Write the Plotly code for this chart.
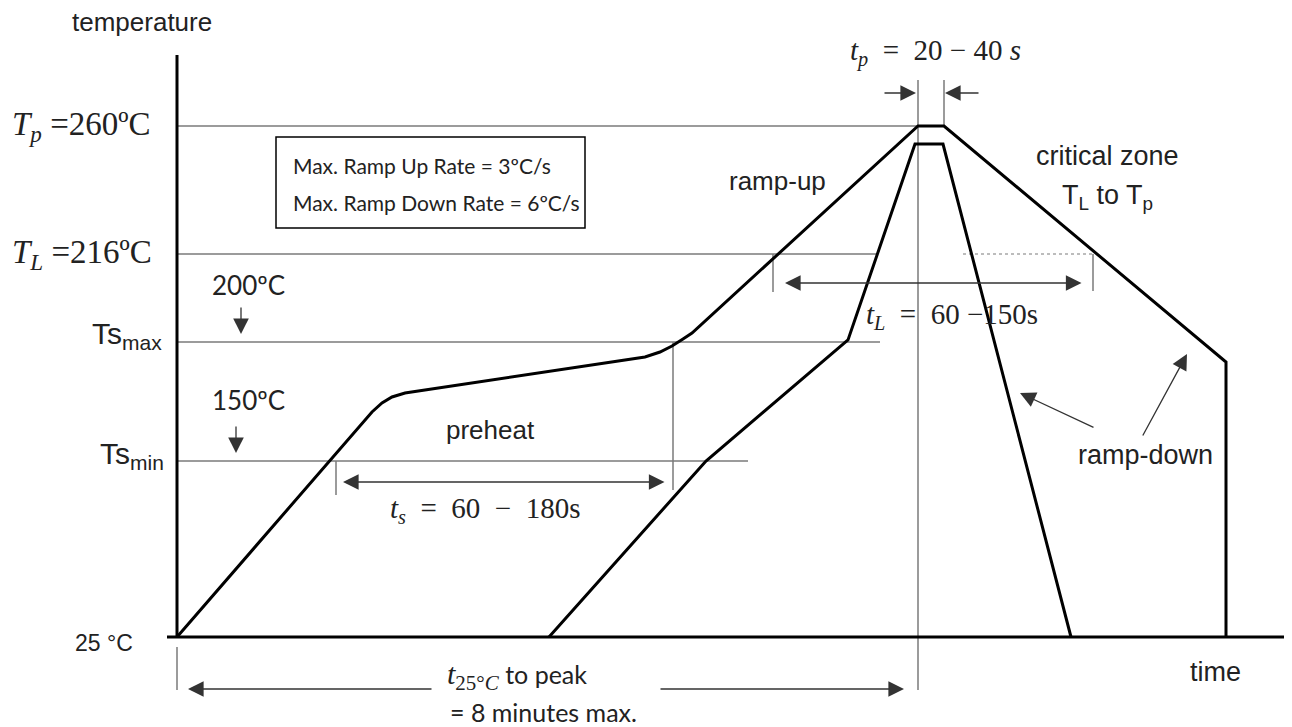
import plotly.graph_objects as go

# ---- data (schematic units: time ~ horizontal position, level ~ vertical position) ----
outer_time = [177, 362, 372, 382, 392, 405, 645, 660, 672, 683, 692, 918, 944, 1226, 1226]
outer_level = [637, 424, 412, 403, 397, 393, 357, 352, 346, 339, 333, 126, 126, 362, 637]

inner_time = [549, 706, 848, 915, 943, 1071]
inner_level = [637, 461, 340, 144, 144, 637]

# reference temperature levels: (level, end time)
ref_names = ["Tp", "TL", "Tsmax", "Tsmin"]
ref_levels = [126, 254, 342, 461]
ref_ends = [918, 876, 880, 748]

SANS = "Liberation Sans, Arial, sans-serif"
CAL = "Lato, Carlito, Calibri, sans-serif"
SERIF = "Liberation Serif, Times New Roman, serif"
GRAY = "#7a7a7a"
DARK = "#333333"
NB = "&nbsp;"
SP = NB * 2

fig = go.Figure()

def seg(xs, ys, color=GRAY, width=1.5, dash=None):
    fig.add_trace(go.Scatter(x=xs, y=ys, mode="lines", hoverinfo="skip",
                             line=dict(color=color, width=width, dash=dash), showlegend=False))

# reference horizontal lines
for lv, end in zip(ref_levels, ref_ends):
    seg([177, end], [lv, lv])
# dashed TL continuation
seg([963, 1093], [254, 254], dash="dot", width=1.2)
# vertical guide lines
seg([918, 918], [80, 690])
seg([944, 944], [80, 126])
seg([673, 673], [342, 490])
seg([336, 336], [461, 495])
seg([773, 773], [254, 292])
seg([1093, 1093], [254, 291])
seg([177, 177], [647, 690])

# axes
seg([177, 177], [55, 637], color="black", width=3)
seg([167, 1285], [637, 637], color="black", width=3)

# profiles
fig.add_trace(go.Scatter(x=outer_time, y=outer_level, mode="lines", hoverinfo="skip",
                         line=dict(color="black", width=3), showlegend=False))
fig.add_trace(go.Scatter(x=inner_time, y=inner_level, mode="lines", hoverinfo="skip",
                         line=dict(color="black", width=3), showlegend=False))

ann = []

def arrow(x, y, ax, ay, both=False, color=DARK, width=1.3):
    ann.append(dict(x=x, y=y, ax=ax, ay=ay, xref="x", yref="y", axref="x", ayref="y",
                    text="", showarrow=True, arrowhead=2, arrowsize=2.4, arrowwidth=width,
                    arrowcolor=color, arrowside="end+start" if both else "end",
                    startarrowhead=2, startarrowsize=2.4))

def text(x, y, t, size=24, font=SANS, xanchor="left", color="#222"):
    ann.append(dict(x=x, y=y, xref="x", yref="y", text=t, showarrow=False,
                    xanchor=xanchor, yanchor="middle", font=dict(family=font, size=size, color=color)))

# arrows
arrow(916, 93, 883, 93)
arrow(945, 93, 980, 93)
arrow(785, 283, 1083, 283, both=True)
arrow(343, 482, 666, 482, both=True)
arrow(188, 689, 433, 689)
arrow(904, 689, 659, 689)
arrow(241, 334, 241, 306)
arrow(236, 453, 236, 425)
arrow(1020, 393, 1095, 428)
arrow(1187, 354, 1142, 437)

# labels
text(70, 22, "temperature", 26)
text(10, 126, "<i>T</i><sub><i>p</i></sub> =260ºC", 33, SERIF)
text(10, 254, "<i>T</i><sub><i>L</i></sub> =216ºC", 33, SERIF)
text(210, 285, "200ºC", 26, CAL)
text(210, 400, "150ºC", 26, CAL)
text(164, 335, "Ts<sub>max</sub>", 30, SANS, xanchor="right")
text(166, 455, "Ts<sub>min</sub>", 30, SANS, xanchor="right")
text(73, 643, "25 °C", 23, SANS)
text(727, 181, "ramp-up", 26)
text(1107, 156, "critical zone", 27, xanchor="center")
text(1107, 197, "T<sub>L</sub> to T<sub>p</sub>", 27, xanchor="center")
text(1145, 455, "ramp-down", 27, xanchor="center")
text(1215, 672, "time", 27, xanchor="center")
text(490, 430, "preheat", 26, xanchor="center")
text(485, 510, "<i>t</i><sub><i>s</i></sub>" + SP + "=" + SP + "60" + SP + "−" + SP + "180s", 29, SERIF, xanchor="center")
text(952, 316, "<i>t</i><sub><i>L</i></sub>" + SP + "=" + SP + "60" + NB + "−150s", 29, SERIF, xanchor="center")
text(935, 52, "<i>t</i><sub><i>p</i></sub>" + SP + "=" + SP + "20" + NB + "−" + NB + "40" + NB + "<i>s</i>", 29, SERIF, xanchor="center")
text(445, 676, "<i>t</i><sub>25°<i>C</i></sub><span style='font-family:Lato;font-size:25px'> to peak</span>", 30, SERIF)
text(448, 712, "= 8 minutes max.", 25, CAL)
text(291, 165, "Max. Ramp Up Rate = 3ºC/s", 21, CAL)
text(291, 202, "Max. Ramp Down Rate = 6ºC/s", 21, CAL)

# the page body has an 8 px margin: shift the visible window so that the drawing lands on the page grid
fig.update_layout(
    width=1284, height=719,
    margin=dict(l=0, r=0, t=0, b=0),
    paper_bgcolor="white", plot_bgcolor="white",
    xaxis=dict(range=[8, 1292], visible=False, fixedrange=True),
    yaxis=dict(range=[727, 8], visible=False, fixedrange=True),
    annotations=ann,
    shapes=[dict(type="rect", xref="x", yref="y", x0=276, x1=585, y0=137, y1=228,
                 line=dict(color="black", width=1.5))],
)

fig.write_html("out.html")
